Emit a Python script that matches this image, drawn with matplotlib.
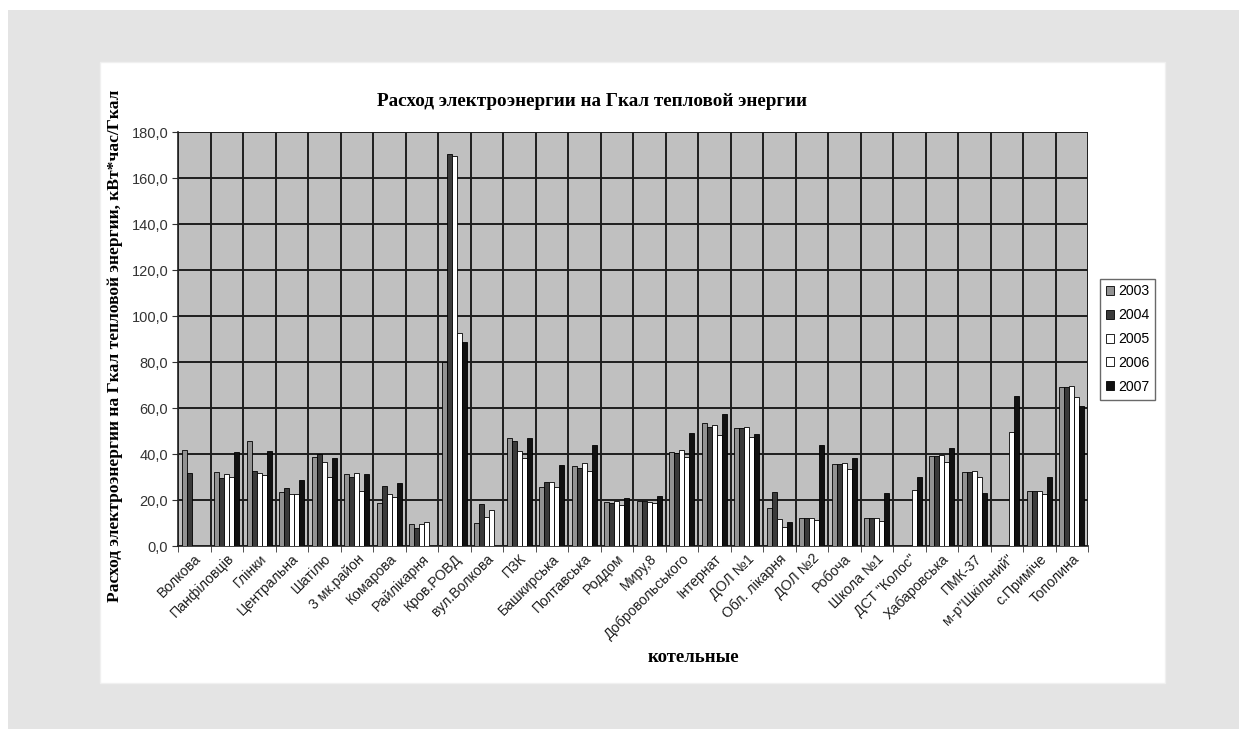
import matplotlib.pyplot as plt
import numpy as np
from matplotlib.patches import Rectangle

# categories (котельні)
boilers = ["Волкова", "Панфіловців", "Глінки", "Центральна", "Шатілю",
           "3 мк.район", "Комарова", "Райлікарня", "Кров.РОВД", "вул.Волкова",
           "ПЗК", "Башкирська", "Полтавська", "Роддом", "Миру,8",
           "Добровольського", "Інтернат", "ДОЛ №1", "Обл. лікарня", "ДОЛ №2",
           "Робоча", "Школа №1", "ДСТ \"Колос\"", "Хабаровська", "ПМК-37",
           "м-р\"Шкільний\"", "с.Приміче", "Тополина"]

years = ["2003", "2004", "2005", "2006", "2007"]

# values per year, kWh per Gcal
v2003 = [41.8, 32.3, 45.7, 23.6, 38.6, 31.3, 18.6, 9.4, 79.8, 10.2,
         46.8, 25.5, 34.8, 19.3, 19.7, 40.7, 53.4, 51.2, 16.7, 12.3,
         35.5, 12.0, 0, 39.2, 32.3, 0, 23.9, 69.0]
v2004 = [31.6, 29.4, 32.8, 25.1, 40.0, 29.9, 26.2, 7.7, 170.5, 18.1,
         45.7, 28.0, 34.1, 18.6, 19.7, 40.3, 51.6, 51.2, 23.6, 12.3,
         35.5, 12.0, 0, 39.2, 32.3, 0, 23.9, 69.0]
v2005 = [0, 31.3, 31.9, 22.5, 36.4, 31.9, 22.5, 9.4, 169.7, 12.8,
         41.5, 28.0, 36.0, 19.6, 19.3, 41.8, 52.6, 51.9, 11.6, 12.3,
         36.0, 12.0, 0, 39.6, 32.6, 0, 23.9, 69.7]
v2006 = [0, 30.2, 30.9, 22.5, 30.2, 24.1, 21.2, 10.6, 92.8, 15.7,
         38.1, 25.8, 32.8, 17.8, 18.6, 38.9, 48.3, 47.6, 8.4, 11.3,
         33.4, 10.9, 24.4, 36.7, 30.2, 49.7, 22.5, 64.7]
v2007 = [0, 40.7, 41.3, 28.7, 38.1, 31.3, 27.6, 0, 88.9, 0,
         47.1, 35.2, 43.9, 21.0, 21.9, 49.3, 57.4, 48.7, 10.6, 43.9,
         38.4, 22.9, 30.2, 42.5, 22.9, 65.4, 30.2, 61.0]

series = [v2003, v2004, v2005, v2006, v2007]
colors = ["#929292", "#3a3a3a", "#ffffff", "#ffffff", "#111111"]

W, H = 1239, 729
fig = plt.figure(figsize=(W / 100, H / 100), dpi=100)
fig.patch.set_facecolor("white")

# grey page background and white chart area
fig.patches.append(Rectangle((8 / W, 0), 1, 1 - 10 / H, transform=fig.transFigure,
                             facecolor="#e4e4e4", edgecolor="none", zorder=-10))
fig.patches.append(Rectangle((100 / W, 1 - 683 / H), (1165 - 100) / W, (683 - 62) / H,
                             transform=fig.transFigure, facecolor="white",
                             edgecolor="#f0f0f0", lw=1, zorder=-9))

ax = fig.add_axes([178 / W, 1 - 546 / H, (1088 - 178) / W, (546 - 132) / H])
ax.set_zorder(1)
ax.set_facecolor("#c0c0c0")

x = np.arange(len(boilers))
w = 0.155
for i, (vals, c) in enumerate(zip(series, colors)):
    ax.bar(x + (i - 2) * w, vals, width=w, color=c, edgecolor="black",
           linewidth=0.6, label=years[i], zorder=3)

ax.set_xlim(-0.5, len(boilers) - 0.5)
ax.set_ylim(0, 180)

yt = np.arange(0, 181, 20)
ax.set_yticks(yt)
ax.set_yticklabels([f"{v:.1f}".replace(".", ",") for v in yt],
                   fontsize=10.5, color="#333333", family="Liberation Sans")
ax.yaxis.grid(True, color="#1e1e1e", linewidth=1.4, zorder=1)

ax.set_xticks(x)
ax.set_xticklabels(boilers, rotation=45, ha="right", va="top",
                   rotation_mode="anchor", fontsize=10.2, color="#1e1e1e",
                   family="Liberation Sans")
ax.set_xticks(np.arange(-0.5, len(boilers)), minor=True)
ax.xaxis.grid(True, which="minor", color="#1e1e1e", linewidth=1.4, zorder=1)
ax.tick_params(axis="x", which="major", length=0, pad=4)
ax.tick_params(axis="x", which="minor", length=4, color="#333333")
ax.tick_params(axis="y", length=4, color="#333333", pad=3)
ax.set_axisbelow(True)

for s in ["top", "right"]:
    ax.spines[s].set_visible(False)
for s in ["left", "bottom"]:
    ax.spines[s].set_color("#222222")
    ax.spines[s].set_linewidth(1.2)

fig.text(592 / W, 1 - 101 / H, "Расход электроэнергии на Гкал тепловой энергии",
         ha="center", va="center", fontsize=13.8, fontweight="bold",
         family="Liberation Serif")
fig.text(115 / W, 1 - 346 / H,
         "Расход электроэнергии на Гкал тепловой энергии, кВт*час/Гкал",
         ha="center", va="center", rotation=90, fontsize=12.6, fontweight="bold",
         family="Liberation Serif")
fig.text(693 / W, 1 - 658 / H, "котельные", ha="center", va="center",
         fontsize=13.5, fontweight="bold", family="Liberation Serif")

leg = fig.legend(loc="center left", bbox_to_anchor=(1093 / W, 1 - 339 / H),
                 frameon=True, fancybox=False, edgecolor="#444444",
                 handlelength=0.6, handleheight=0.6, handletextpad=0.3,
                 labelspacing=0.7, borderpad=0.4,
                 prop={"family": "Liberation Sans", "size": 10.2})
leg.get_frame().set_linewidth(1.0)

fig.savefig("out.png", dpi=100)
